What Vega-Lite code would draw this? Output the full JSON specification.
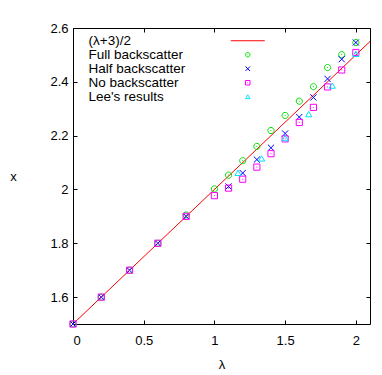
{
  "$schema": "https://vega.github.io/schema/vega-lite/v6.json",
  "width": 297,
  "height": 296,
  "autosize": "none",
  "padding": {"left": 73, "top": 28, "right": 12, "bottom": 51},
  "background": "#ffffff",
  "config": {
    "font": "Liberation Sans",
    "view": {"stroke": "#000000", "strokeWidth": 1},
    "axis": {
      "grid": false,
      "domain": false,
      "tickSize": -4,
      "tickColor": "#000000",
      "tickWidth": 1,
      "labelFont": "Liberation Sans",
      "labelFontSize": 13,
      "labelColor": "#000000",
      "titleFont": "Liberation Sans",
      "titleFontSize": 13,
      "titleFontWeight": "normal",
      "titleColor": "#000000",
      "format": "~g"
    },
    "legend": {
      "orient": "none",
      "legendX": 170,
      "legendY": 6,
      "columns": 1,
      "padding": 0,
      "rowPadding": -1.3,
      "labelOffset": -166,
      "symbolOffset": -2,
      "labelFont": "Liberation Sans",
      "labelFontSize": 13.5,
      "labelColor": "#000000",
      "labelLimit": 0,
      "symbolSize": 20,
      "symbolStrokeWidth": 1,
      "symbolOpacity": 1
    }
  },
  "datasets": {
    "line": [
      {"lambda": 0, "x": 1.5},
      {"lambda": 2.1, "x": 2.55}
    ],
    "pts": [
      {"series": "Full backscatter", "lambda": 0, "x": 1.5},
      {"series": "Full backscatter", "lambda": 0.2, "x": 1.6},
      {"series": "Full backscatter", "lambda": 0.4, "x": 1.7},
      {"series": "Full backscatter", "lambda": 0.6, "x": 1.8},
      {"series": "Full backscatter", "lambda": 0.8, "x": 1.905},
      {"series": "Full backscatter", "lambda": 1.0, "x": 2.002},
      {"series": "Full backscatter", "lambda": 1.1, "x": 2.053},
      {"series": "Full backscatter", "lambda": 1.2, "x": 2.107},
      {"series": "Full backscatter", "lambda": 1.3, "x": 2.16},
      {"series": "Full backscatter", "lambda": 1.4, "x": 2.219},
      {"series": "Full backscatter", "lambda": 1.5, "x": 2.275},
      {"series": "Full backscatter", "lambda": 1.6, "x": 2.328},
      {"series": "Full backscatter", "lambda": 1.7, "x": 2.382},
      {"series": "Full backscatter", "lambda": 1.8, "x": 2.453},
      {"series": "Full backscatter", "lambda": 1.9, "x": 2.501},
      {"series": "Full backscatter", "lambda": 2.0, "x": 2.546},
      {"series": "Half backscatter", "lambda": 0, "x": 1.5},
      {"series": "Half backscatter", "lambda": 0.2, "x": 1.6},
      {"series": "Half backscatter", "lambda": 0.4, "x": 1.7},
      {"series": "Half backscatter", "lambda": 0.6, "x": 1.8},
      {"series": "Half backscatter", "lambda": 0.8, "x": 1.9},
      {"series": "Half backscatter", "lambda": 1.1, "x": 2.011},
      {"series": "Half backscatter", "lambda": 1.2, "x": 2.061},
      {"series": "Half backscatter", "lambda": 1.3, "x": 2.111},
      {"series": "Half backscatter", "lambda": 1.4, "x": 2.155},
      {"series": "Half backscatter", "lambda": 1.5, "x": 2.208},
      {"series": "Half backscatter", "lambda": 1.6, "x": 2.269},
      {"series": "Half backscatter", "lambda": 1.7, "x": 2.342},
      {"series": "Half backscatter", "lambda": 1.8, "x": 2.411},
      {"series": "Half backscatter", "lambda": 1.9, "x": 2.484},
      {"series": "Half backscatter", "lambda": 2.0, "x": 2.546},
      {"series": "No backscatter", "lambda": 0, "x": 1.5},
      {"series": "No backscatter", "lambda": 0.2, "x": 1.6},
      {"series": "No backscatter", "lambda": 0.4, "x": 1.7},
      {"series": "No backscatter", "lambda": 0.6, "x": 1.8},
      {"series": "No backscatter", "lambda": 0.8, "x": 1.9},
      {"series": "No backscatter", "lambda": 1.0, "x": 1.977},
      {"series": "No backscatter", "lambda": 1.1, "x": 2.005},
      {"series": "No backscatter", "lambda": 1.2, "x": 2.038},
      {"series": "No backscatter", "lambda": 1.3, "x": 2.083},
      {"series": "No backscatter", "lambda": 1.4, "x": 2.133},
      {"series": "No backscatter", "lambda": 1.5, "x": 2.188},
      {"series": "No backscatter", "lambda": 1.6, "x": 2.249},
      {"series": "No backscatter", "lambda": 1.7, "x": 2.305},
      {"series": "No backscatter", "lambda": 1.8, "x": 2.381},
      {"series": "No backscatter", "lambda": 1.9, "x": 2.444},
      {"series": "No backscatter", "lambda": 2.0, "x": 2.509},
      {"series": "Lee's results", "lambda": 1.1667, "x": 2.062},
      {"series": "Lee's results", "lambda": 1.3333, "x": 2.1155},
      {"series": "Lee's results", "lambda": 1.5, "x": 2.191},
      {"series": "Lee's results", "lambda": 1.6667, "x": 2.28},
      {"series": "Lee's results", "lambda": 1.8333, "x": 2.386},
      {"series": "Lee's results", "lambda": 2.0, "x": 2.504}
    ]
  },
  "layer": [
    {
      "data": {"name": "line"},
      "mark": {"type": "line", "color": "#ff0000", "strokeWidth": 1, "clip": true},
      "encoding": {
        "x": {"field": "lambda", "type": "quantitative", "scale": {"domain": [0, 2.1], "nice": false, "zero": false},
              "axis": {"orient": "top", "values": [0, 0.5, 1, 1.5, 2], "labels": false, "title": null}},
        "y": {"field": "x", "type": "quantitative", "scale": {"domain": [1.5, 2.6], "nice": false, "zero": false},
              "axis": {"orient": "right", "values": [1.6, 1.8, 2, 2.2, 2.4, 2.6], "labels": false, "title": null}}
      }
    },
    {
      "data": {"name": "pts"},
      "mark": {"type": "point", "filled": false, "strokeWidth": 1, "opacity": 1, "size": 38},
      "encoding": {
        "x": {"field": "lambda", "type": "quantitative",
              "axis": {"orient": "bottom", "values": [0, 0.5, 1, 1.5, 2], "title": "λ", "labelPadding": 14, "titlePadding": 11}},
        "y": {"field": "x", "type": "quantitative",
              "axis": {"orient": "left", "values": [1.6, 1.8, 2, 2.2, 2.4, 2.6], "title": "x", "titleAngle": 0, "titleAlign": "center", "titleBaseline": "middle", "labelPadding": 9, "titlePadding": 37}},
        "color": {"field": "series", "type": "nominal", "title": null,
                  "scale": {"domain": ["(λ+3)/2", "Full backscatter", "Half backscatter", "No backscatter", "Lee's results"],
                            "range": ["#ff0000", "#00e000", "#0000ff", "#ff00ff", "#00e0ff"]}},
        "shape": {"field": "series", "type": "nominal", "title": null,
                  "scale": {"domain": ["(λ+3)/2", "Full backscatter", "Half backscatter", "No backscatter", "Lee's results"],
                            "range": ["M-7.6,0H7.6", "M-1,0A1,1 0 1,0 1,0A1,1 0 1,0 -1,0Z M-0.15,0L0.15,0", "M-1,-1L1,1M1,-1L-1,1", "M-1,-1H1V1H-1Z M-0.15,0H0.15", "triangle-up"]}}
      }
    }
  ],
  "resolve": {"axis": {"x": "independent", "y": "independent"}}
}
